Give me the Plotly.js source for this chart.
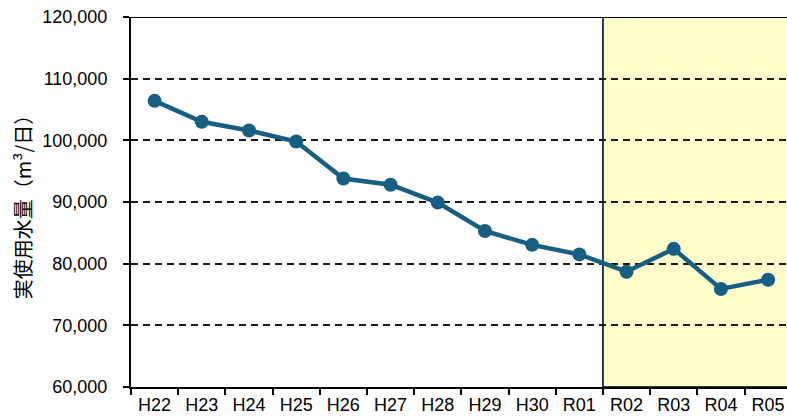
<!DOCTYPE html>
<html><head><meta charset="utf-8">
<script src="https://cdn.plot.ly/plotly-3.0.1.min.js"></script>
<style>body{margin:0;padding:0;background:#fff}#c{width:787px;height:419px}</style>
</head><body><div id="c"></div>
<script>
const categories = ["H22","H23","H24","H25","H26","H27","H28","H29","H30","R01","R02","R03","R04","R05"];
const values = [106400, 103000, 101600, 99800, 93800, 92800, 89900, 85300, 83050, 81500, 78700, 82400, 75900, 77400];
const yTicks = [60000, 70000, 80000, 90000, 100000, 110000, 120000];
const yTickLabels = ["60,000","70,000","80,000","90,000","100,000","110,000","120,000"];
const highlightStart = "R02";
const yTitle = "実使用水量（m³/日）";

const idx = categories.indexOf(highlightStart);
const tickFont = "'Liberation Sans', Arial, sans-serif";
const cjkFont = "'Noto Sans CJK JP', 'Liberation Sans', sans-serif";

Plotly.newPlot("c", [{
  x: categories, y: values, type: "scatter", mode: "lines+markers",
  line: {color: "#175f82", width: 4.5},
  marker: {color: "#175f82", size: 14},
  cliponaxis: false, hoverinfo: "skip"
}], {
  width: 787, height: 419,
  margin: {l: 131, r: 0, t: 17, b: 32, pad: 0},
  paper_bgcolor: "#ffffff", plot_bgcolor: "#ffffff",
  showlegend: false,
  font: {family: tickFont, color: "#000", size: 18},
  xaxis: {
    type: "category", range: [-0.5, 13.4],
    tickson: "boundaries", ticks: "outside", ticklen: 6, tickcolor: "#000", tickwidth: 2,
    showgrid: false, showline: true, linecolor: "#000", linewidth: 2, mirror: false,
    tickfont: {size: 18, family: tickFont}, zeroline: false
  },
  yaxis: {
    range: [60000, 120000], tickvals: yTicks, ticktext: yTickLabels,
    ticks: "outside", ticklen: 6, tickcolor: "#000", tickwidth: 2,
    showline: true, linecolor: "#000", linewidth: 2,
    showgrid: true, gridcolor: "#1a1a1a", gridwidth: 2, griddash: "7px,5px",
    zeroline: false, tickfont: {size: 18, family: tickFont},
    ticklabelstandoff: 12,
    title: {text: yTitle, font: {size: 20, family: cjkFont}, standoff: 5}
  },
  shapes: [
    {type: "rect", xref: "x", yref: "y", x0: idx - 0.5, x1: 14, y0: 60000, y1: 120000,
     fillcolor: "#ffffcc", line: {color: "#243a55", width: 2}, layer: "below"},
    {type: "line", xref: "paper", yref: "y", x0: 0, x1: 1, y0: 120000, y1: 120000,
     line: {color: "#000", width: 2}, layer: "above"}
  ]
}, {displayModeBar: false, staticPlot: true});
</script></body></html>
